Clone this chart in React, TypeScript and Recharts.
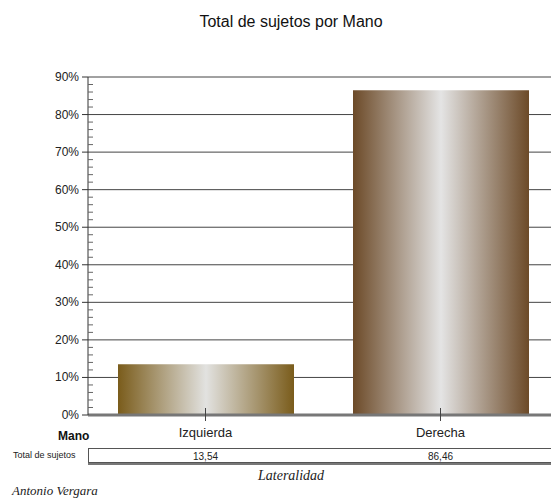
import React from 'react';
import { BarChart, Bar, XAxis, YAxis, CartesianGrid, Cell } from 'recharts';

const categories = ['Izquierda', 'Derecha'];
const values = [13.54, 86.46];
const valueLabels = ['13,54', '86,46'];
const majorTicks = [0, 10, 20, 30, 40, 50, 60, 70, 80, 90];
const allTicks = [
  0, 2, 4, 6, 8, 10, 12, 14, 16, 18, 20, 22, 24, 26, 28, 30, 32, 34, 36, 38, 40, 42, 44, 46, 48,
  50, 52, 54, 56, 58, 60, 62, 64, 66, 68, 70, 72, 74, 76, 78, 80, 82, 84, 86, 88, 90,
];
const barColors = [
  { edge: '#7a5c1b', mid: '#e2e2e0' },
  { edge: '#6c4a28', mid: '#e4e4e4' },
];

const data = categories.map((name, i) => ({ name, value: values[i], label: valueLabels[i] }));

const sans = '"Liberation Sans", Arial, sans-serif';
const serif = '"Liberation Serif", "Times New Roman", serif';

const CategoryTick = (props: any) => {
  const { x, y, payload, index } = props;
  return (
    <g>
      <line x1={x} x2={x} y1={y - 7} y2={y + 6} stroke="#444" strokeWidth={1} />
      <text x={x} y={y + 22} textAnchor="middle" fontSize={13} fontFamily={sans} fill="#222">
        {payload.value}
      </text>
      <text x={x} y={y + 45} textAnchor="middle" fontSize={10} fontFamily={sans} fill="#222">
        {data[index] ? data[index].label : ''}
      </text>
    </g>
  );
};

const PercentTick = (props: any) => {
  const { x, y, payload } = props;
  const v = payload.value;
  if (majorTicks.includes(v)) {
    return (
      <g>
        <line x1={x - 6} x2={x} y1={y} y2={y} stroke="#333" />
        <text x={x - 9} y={y + 4} textAnchor="end" fontSize={12} fontFamily={sans} fill="#222">
          {`${v}%`}
        </text>
      </g>
    );
  }
  return <line x1={x} x2={x + 5} y1={y} y2={y} stroke="#666" />;
};

export default function App() {
  return (
    <div style={{ position: 'absolute', left: 0, top: 0, width: 551, height: 498, overflow: 'hidden', background: '#fff' }}>
      <div style={{ position: 'absolute', left: 0, top: 13, width: 582, textAlign: 'center', fontFamily: sans, fontSize: 16, color: '#111' }}>
        Total de sujetos por Mano
      </div>
      <div style={{ position: 'absolute', left: 88, top: 448, width: 500, height: 15, border: '1px solid #555', boxShadow: '0 2px 0 #777', boxSizing: 'border-box' }} />
      <div style={{ position: 'absolute', left: 0, top: 0 }}>
        <BarChart
          width={600}
          height={498}
          data={data}
          margin={{ top: 77, right: 42, bottom: 0, left: 0 }}
        >
          <CartesianGrid yAxisId="main" vertical={false} horizontalValues={majorTicks} stroke="#444" strokeWidth={1} />
          <XAxis
            dataKey="name"
            axisLine={{ stroke: '#777', strokeWidth: 3 }}
            tickLine={false}
            tickSize={0}
            tickMargin={0}
            tick={<CategoryTick />}
            interval={0}
            height={83}
          />
          <YAxis
            yAxisId="main"
            width={88}
            domain={[0, 90]}
            ticks={allTicks}
            axisLine={{ stroke: '#333' }}
            tickLine={false}
            tickSize={0}
            tickMargin={0}
            tick={<PercentTick />}
            interval={0}
          />
          <defs>
            {barColors.map((c, i) => (
              <linearGradient key={i} id={`barGrad${i}`} x1="0" y1="0" x2="1" y2="0">
                <stop offset="0%" stopColor={c.edge} />
                <stop offset="50%" stopColor={c.mid} />
                <stop offset="100%" stopColor={c.edge} />
              </linearGradient>
            ))}
          </defs>
          <Bar dataKey="value" yAxisId="main" barSize={176} isAnimationActive={false}>
            {data.map((_, i) => (
              <Cell key={i} fill={`url(#barGrad${i})`} />
            ))}
          </Bar>
        </BarChart>
      </div>
      <div style={{ position: 'absolute', left: 58, top: 429, fontFamily: sans, fontSize: 12, fontWeight: 'bold', color: '#111' }}>
        Mano
      </div>
      <div style={{ position: 'absolute', left: 13, top: 450, fontFamily: sans, fontSize: 9, color: '#222' }}>
        Total de sujetos
      </div>
      <div style={{ position: 'absolute', left: 258, top: 468, fontFamily: serif, fontStyle: 'italic', fontSize: 14, color: '#222' }}>
        Lateralidad
      </div>
      <div style={{ position: 'absolute', left: 12, top: 483, fontFamily: serif, fontStyle: 'italic', fontSize: 13, color: '#222' }}>
        Antonio Vergara
      </div>
    </div>
  );
}
